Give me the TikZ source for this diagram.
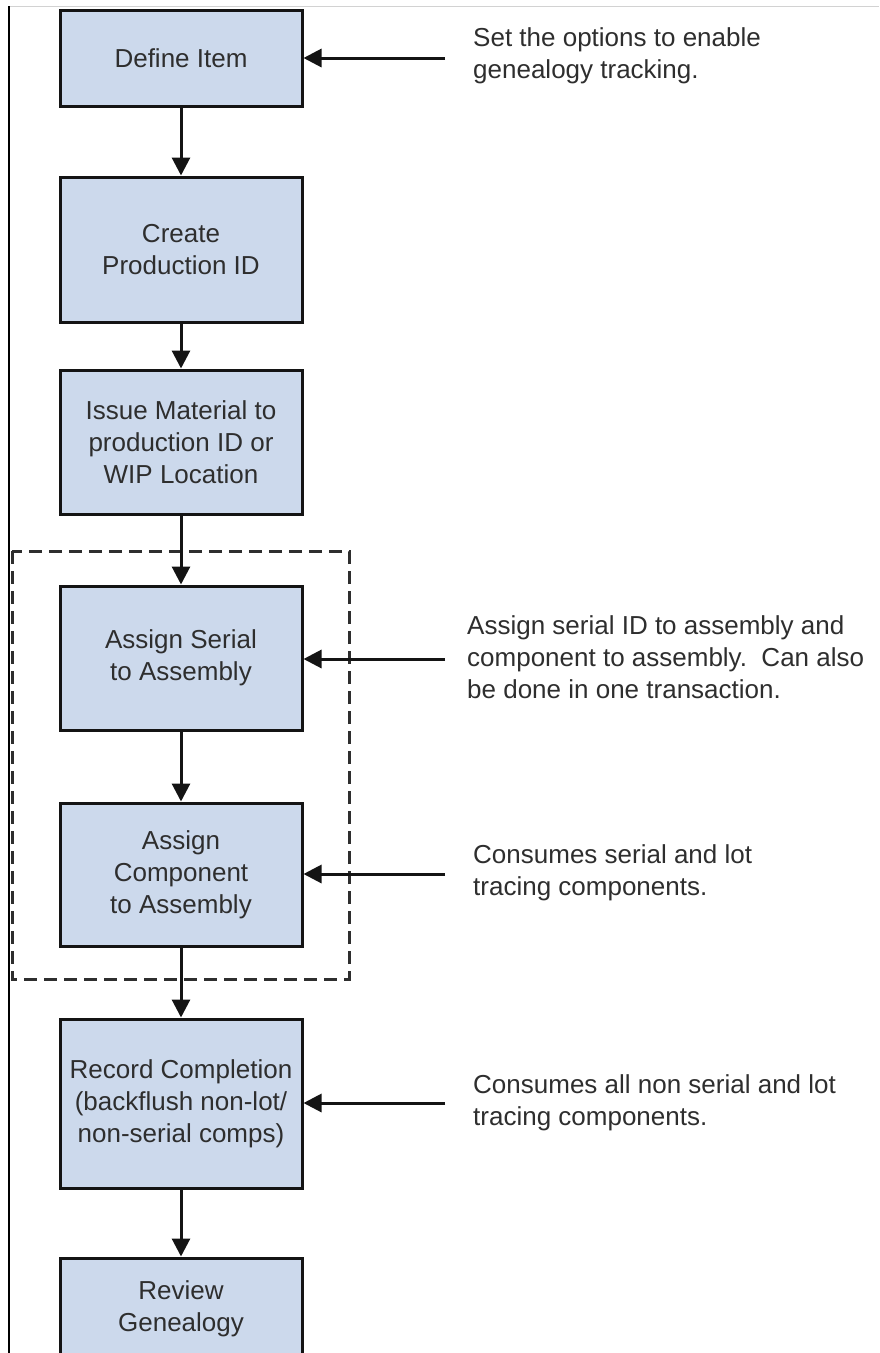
\documentclass[tikz,border=0pt]{standalone}
\usepackage{fontspec}
\setmainfont{Liberation Sans}
\usetikzlibrary{arrows.meta}
\definecolor{boxfill}{HTML}{CCD9EC}
\definecolor{txt}{HTML}{2E2E2E}
\definecolor{edge}{HTML}{141414}
\begin{document}
\begin{tikzpicture}[x=1pt,y=-1pt,
  box/.style={draw=edge, line width=3pt, fill=boxfill, minimum width=242pt,
    align=center, text=txt, inner sep=0pt, font=\fontsize{26}{32}\selectfont},
  note/.style={anchor=west, align=left, text=txt, inner sep=0pt,
    font=\fontsize{26}{32}\selectfont},
  flow/.style={draw=edge, line width=3pt, -{Triangle[length=18pt,width=18pt]}},
  group/.style={draw=txt, line width=3pt, dash pattern=on 13pt off 7pt}]
\useasboundingbox (0,0) rectangle (879,1353);
% frame lines
\draw[gray!35, line width=1pt] (9,6) -- (879,6);
\draw[black, line width=1.5pt] (9,6) -- (9,1353);
% dashed group
\draw[group] (12,551) rectangle (349,979);
% boxes
\node[box, minimum height=96pt]  (define)  at (181,58)     {Define Item};
\node[box, minimum height=145pt] (create)  at (181,249.5)  {Create\\Production ID};
\node[box, minimum height=144pt] (issue)   at (181,442)    {Issue Material to\\production ID or\\WIP Location};
\node[box, minimum height=144pt] (serial)  at (181,658)    {Assign Serial\\to Assembly};
\node[box, minimum height=143pt] (comp)    at (181,874.5)  {Assign\\Component\\to Assembly};
\node[box, minimum height=169pt] (record)  at (181,1103.5) {Record Completion\\(backflush non-lot/\\non-serial comps)};
\node[box, minimum height=102pt] (review)  at (181,1309)   {Review\\Genealogy};
% flow arrows
\draw[flow] (define) -- (create);
\draw[flow] (create) -- (issue);
\draw[flow] (issue) -- (serial);
\draw[flow] (serial) -- (comp);
\draw[flow] (comp) -- (record);
\draw[flow] (record) -- (review);
% notes
\node[note] (n1) at (473,55.5) {Set the options to enable\\genealogy tracking.};
\node[note] (n2) at (467,657) {Assign serial ID to assembly and\\component to assembly.\ \ Can also\\be done in one transaction.};
\node[note] (n3) at (473,873) {Consumes serial and lot\\tracing components.};
\node[note] (n4) at (473,1103) {Consumes all non serial and lot\\tracing components.};
\coordinate (c1) at (445,58);
\coordinate (c2) at (445,659);
\coordinate (c3) at (445,874);
\coordinate (c4) at (445,1103);
\draw[flow] (c1) -- (c1 -| define.east);
\draw[flow] (c2) -- (c2 -| serial.east);
\draw[flow] (c3) -- (c3 -| comp.east);
\draw[flow] (c4) -- (c4 -| record.east);
\end{tikzpicture}
\end{document}
